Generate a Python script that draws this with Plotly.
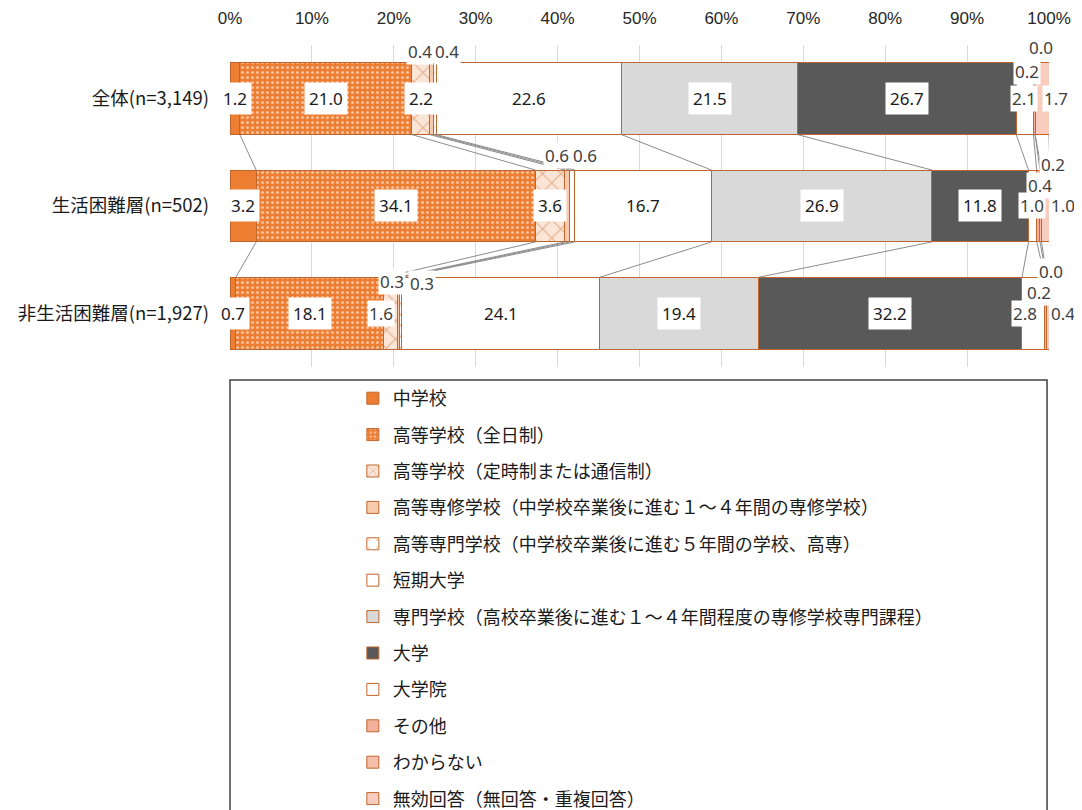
import plotly.graph_objects as go

# ---- data -------------------------------------------------------------
categories = ["全体(n=3,149)", "生活困難層(n=502)", "非生活困難層(n=1,927)"]

series_names = [
    "中学校",
    "高等学校（全日制）",
    "高等学校（定時制または通信制）",
    "高等専修学校（中学校卒業後に進む１～４年間の専修学校）",
    "高等専門学校（中学校卒業後に進む５年間の学校、高専）",
    "短期大学",
    "専門学校（高校卒業後に進む１～４年間程度の専修学校専門課程）",
    "大学",
    "大学院",
    "その他",
    "わからない",
    "無効回答（無回答・重複回答）",
]

junior_high = [1.2, 3.2, 0.7]
high_full = [21.0, 34.1, 18.1]
high_part = [2.2, 3.6, 1.6]
high_vocational = [0.4, 0.6, 0.3]
tech_college = [0.4, 0.6, 0.3]
junior_college = [22.6, 16.7, 24.1]
vocational = [21.5, 26.9, 19.4]
university = [26.7, 11.8, 32.2]
graduate = [2.1, 1.0, 2.8]
other = [0.2, 0.4, 0.2]
unknown = [0.0, 0.2, 0.0]
invalid = [1.7, 1.0, 0.4]

tick_vals = [0, 10, 20, 30, 40, 50, 60, 70, 80, 90, 100]

series_values = [junior_high, high_full, high_part, high_vocational, tech_college,
                 junior_college, vocational, university, graduate, other, unknown, invalid]

# ---- styles -----------------------------------------------------------
ORANGE = "#ED7D31"
EDGE = "#C0662C"
styles = [
    dict(color=ORANGE),
    dict(color=ORANGE, pattern=dict(shape=".", fgcolor="white", bgcolor=ORANGE,
                                    size=5, solidity=0.3, fillmode="overlay")),
    dict(color="#FBE5D6", pattern=dict(shape="x", fgcolor="#C8703A", bgcolor="#FBE5D6",
                                       size=13, solidity=0.15, fillmode="overlay")),
    dict(color="#F8CBAD"),
    dict(color="white", pattern=dict(shape=".", fgcolor=ORANGE, bgcolor="white",
                                     size=11, solidity=0.04, fillmode="overlay")),
    dict(color="white"),
    dict(color="#D9D9D9"),
    dict(color="#595959"),
    dict(color="white"),
    dict(color="#F3B09A"),
    dict(color="#F4BEAA"),
    dict(color="#F8CDBE"),
]

# label offsets (xshift, yshift) per series, per row
offsets = {
    (3, 0): (-11, 47), (4, 0): (12, 47),
    (3, 1): (-10, 50), (4, 1): (13, 50),
    (3, 2): (-6, 32), (4, 2): (21, 30),
    (2, 2): (-10, 0),
    (8, 0): (-1, 0), (9, 0): (-7, 27), (10, 0): (6, 51), (11, 0): (14, 0),
    (8, 1): (-1, 0), (9, 1): (2, 20), (10, 1): (12, 41), (11, 1): (17, 0),
    (8, 2): (-8, 0), (9, 2): (-7, 21), (10, 2): (4, 42), (11, 2): (15, 0),
}

BAR_W = 0.67
rows = list(range(len(categories)))

fig = go.Figure()

# cumulative boundaries for series lines
cum = []
running = [0.0] * len(categories)
for vals in series_values:
    running = [r + v for r, v in zip(running, vals)]
    cum.append(list(running))

lx, ly = [], []
for r in rows[:-1]:
    for b in cum:
        lx += [b[r], b[r + 1], None]
        ly += [r + BAR_W / 2, r + 1 - BAR_W / 2, None]
fig.add_trace(go.Scatter(x=lx, y=ly, mode="lines", line=dict(color="#8C8C8C", width=1),
                         showlegend=False, hoverinfo="skip"))

for i, (name, vals) in enumerate(zip(series_names, series_values)):
    st = styles[i]
    marker = dict(color=st["color"], line=dict(color=EDGE, width=1))
    if "pattern" in st:
        marker["pattern"] = st["pattern"]
    fig.add_trace(go.Bar(
        x=vals, y=rows, orientation="h", name=name, width=BAR_W,
        marker=marker, legendgroup=f"g{i}",
    ))

# data labels
start = [0.0] * len(categories)
for i, vals in enumerate(series_values):
    for r in rows:
        mid = start[r] + vals[r] / 2
        xs, ys = offsets.get((i, r), (0, 0))
        moved = (xs, ys) != (0, 0)
        fig.add_annotation(
            x=mid, y=r, text=f"{vals[r]:.1f}", showarrow=False,
            xshift=xs, yshift=ys, bgcolor="white", borderpad=4 if not moved else 1,
            font=dict(size=17, color="#404040" if moved else "#1a1a1a",
                      family="Liberation Sans Narrow, Arial Narrow, Noto Sans, sans-serif"),
        )
    start = [s + v for s, v in zip(start, vals)]

# legend frame
fig.add_shape(type="rect", xref="paper", yref="paper", x0=0, x1=0.9976,
              y0=-0.05, y1=0.5621, line=dict(color="#404040", width=1.5),
              fillcolor="rgba(0,0,0,0)")

fig.update_layout(
    width=1074, height=802,
    margin=dict(l=222, r=33, t=37, b=0, autoexpand=False),
    barmode="stack",
    bargap=0.33,
    plot_bgcolor="white", paper_bgcolor="white",
    font=dict(family="Noto Sans CJK JP, sans-serif", color="#262626", size=16),
    xaxis=dict(range=[0, 100], side="top", tickvals=tick_vals,
               ticktext=[f"{v}%" for v in tick_vals],
               showgrid=True, gridcolor="#D9D9D9", gridwidth=1, zeroline=False,
               showline=False, ticks="", ticklabelstandoff=17,
               tickfont=dict(size=17, family="Liberation Sans Narrow, Arial Narrow, sans-serif",
                             color="#262626")),
    yaxis=dict(domain=[0.5791, 1], range=[2.5, -0.5], tickvals=rows, ticktext=categories,
               showgrid=False, zeroline=False, showline=False, ticks="",
               ticklabelstandoff=20, tickfont=dict(size=18.5, color="#1a1a1a")),
    legend=dict(x=0.150, y=0.5621, xanchor="left", yanchor="top",
                traceorder="grouped", tracegroupgap=10,
                font=dict(size=18, color="#1a1a1a"),
                bgcolor="rgba(0,0,0,0)", borderwidth=0),
    showlegend=True,
)

fig.write_html("out.html")
